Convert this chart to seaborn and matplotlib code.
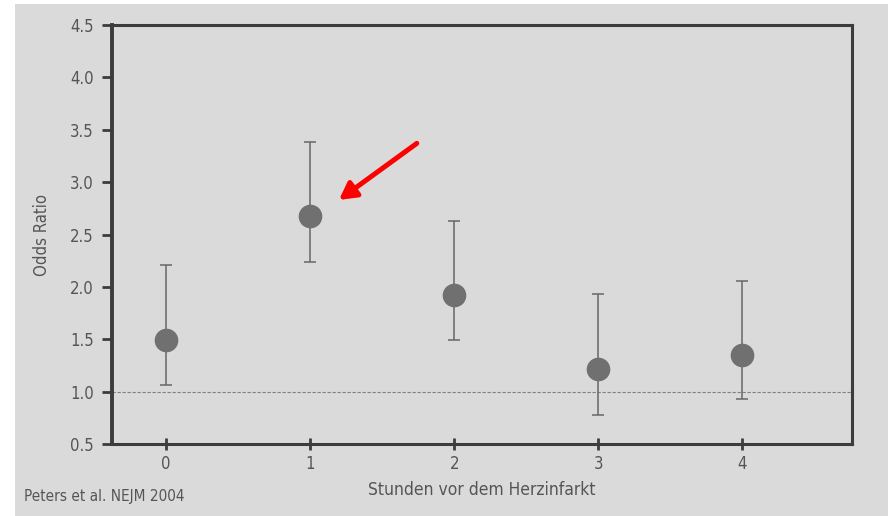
import numpy as np
import pandas as pd
import seaborn as sns
import matplotlib.pyplot as plt
from matplotlib.patches import Rectangle

# ======================
# data

hours = [0, 1, 2, 3, 4]
odds_ratio = [1.49, 2.68, 1.92, 1.22, 1.35]
ci_low = [1.06, 2.24, 1.49, 0.78, 0.93]
ci_high = [2.21, 3.38, 2.63, 1.93, 2.06]
y_ticks = [0.5, 1.0, 1.5, 2.0, 2.5, 3.0, 3.5, 4.0, 4.5]

df = pd.DataFrame({'hours': hours, 'odds_ratio': odds_ratio,
                   'ci_low': ci_low, 'ci_high': ci_high})

# ======================
# style

sns.set_style("ticks")
plt.rcParams['font.family'] = ['Liberation Sans Narrow', 'DejaVu Sans']
plt.rcParams['font.stretch'] = 'condensed'

bg = '#dadada'
ink = '#555555'
spine_col = '#3c3c3c'

fig = plt.figure(figsize=(8.88, 5.16), dpi=100, facecolor='white')
# scanned page area (white margin on left/top)
fig.patches.append(Rectangle((15 / 888, 0), 1, 1 - 4 / 516, transform=fig.transFigure,
                             facecolor=bg, edgecolor='none', zorder=-5))

ax = fig.add_axes([112 / 888, 1 - 444 / 516, 740 / 888, 419 / 516])
ax.set_facecolor(bg)
ax.set_zorder(2)

# reference line at OR = 1
ax.axhline(1.0, color='#808080', lw=0.8, ls=(0, (3, 1.5)), zorder=1)

# confidence intervals
ax.errorbar(df['hours'], df['odds_ratio'],
            yerr=[df['odds_ratio'] - df['ci_low'], df['ci_high'] - df['odds_ratio']],
            fmt='none', ecolor='#666666', elinewidth=1.1, capsize=4, capthick=1.1, zorder=2)

# point estimates
sns.scatterplot(data=df, x='hours', y='odds_ratio', ax=ax, s=290, color='#707070',
                edgecolor='#707070', linewidth=0, zorder=3, legend=False)

# arrow pointing at the 1-hour estimate
ax.annotate('', xy=(hours[1] + 0.2, odds_ratio[1] + 0.15),
            xytext=(hours[1] + 0.74, odds_ratio[1] + 0.69),
            arrowprops=dict(arrowstyle='-|>,head_length=1.0,head_width=0.55',
                            color='#ff0000', lw=3.6, shrinkA=0, shrinkB=0),
            zorder=4)

ax.set_xlim(-0.375, 4.76)
ax.set_ylim(0.5, 4.5)
ax.set_xticks(hours)
ax.set_yticks(y_ticks)
ax.set_yticklabels(['%.1f' % t for t in y_ticks])

for s in ax.spines.values():
    s.set_color(spine_col)
    s.set_linewidth(2.2)
ax.spines['left'].set_linewidth(2.8)

ax.tick_params(axis='y', direction='out', length=7, width=2, color=spine_col,
               labelsize=12, labelcolor=ink, pad=6)
ax.tick_params(axis='x', direction='inout', length=8, width=2, color=spine_col,
               labelsize=12, labelcolor=ink, pad=4)

ax.set_ylabel('Odds Ratio', fontsize=12, color=ink, labelpad=14)
ax.set_xlabel('Stunden vor dem Herzinfarkt', fontsize=12.5, color=ink, labelpad=6)

fig.text(24 / 888, 1 - 497 / 516, 'Peters et al. NEJM 2004', fontsize=11,
         color=ink, va='center', ha='left')

plt.savefig('out.png', dpi=100, facecolor='white')
plt.close()
